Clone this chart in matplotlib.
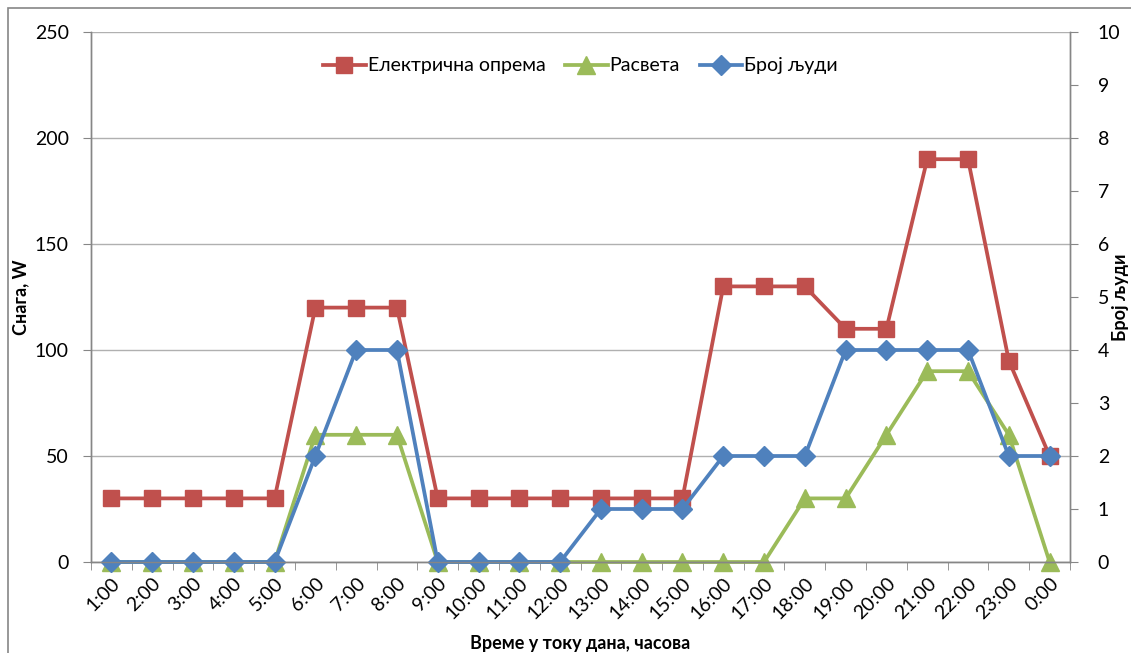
import matplotlib.pyplot as plt
from matplotlib.patches import Rectangle

hours = ["1:00", "2:00", "3:00", "4:00", "5:00", "6:00", "7:00", "8:00", "9:00", "10:00",
         "11:00", "12:00", "13:00", "14:00", "15:00", "16:00", "17:00", "18:00", "19:00",
         "20:00", "21:00", "22:00", "23:00", "0:00"]
equipment = [30, 30, 30, 30, 30, 120, 120, 120, 30, 30, 30, 30, 30, 30, 30,
             130, 130, 130, 110, 110, 190, 190, 95, 50]
lighting = [0, 0, 0, 0, 0, 60, 60, 60, 0, 0, 0, 0, 0, 0, 0,
            0, 0, 30, 30, 60, 90, 90, 60, 0]
people = [0, 0, 0, 0, 0, 2, 4, 4, 0, 0, 0, 0, 1, 1, 1,
          2, 2, 2, 4, 4, 4, 4, 2, 2]

plt.rcParams["font.family"] = ["Lato", "DejaVu Sans"]

RED = "#C0504D"
GREEN = "#9BBB59"
BLUE = "#4F81BD"
AXIS = "#868686"

fig = plt.figure(figsize=(11.31, 6.53), dpi=100, facecolor="white")
fig.patches.append(Rectangle((8 / 1131, -0.1), 1.2, 1 - 8 / 653 + 0.1, transform=fig.transFigure,
                             fill=False, edgecolor=AXIS, linewidth=1.2))

ax = fig.add_axes([91 / 1131, 1 - 562 / 653, (1070 - 91) / 1131, (562 - 32) / 653])
ax2 = ax.twinx()

x = list(range(len(hours)))
l1, = ax.plot(x, equipment, color=RED, linewidth=2.7, marker="s", markersize=11,
              label="Електрична опрема", clip_on=False)
l2, = ax.plot(x, lighting, color=GREEN, linewidth=2.7, marker="^", markersize=13,
              label="Расвета", clip_on=False)
l3, = ax2.plot(x, people, color=BLUE, linewidth=2.7, marker="D", markersize=10,
               label="Број људи", clip_on=False)

ax.set_xlim(-0.5, len(hours) - 0.5)
ax.set_ylim(0, 250)
ax.set_yticks(range(0, 251, 50))
ax2.set_ylim(0, 10)
ax2.set_yticks(range(0, 11))

ax.set_xticks(x)
ax.set_xticklabels(hours, rotation=45, ha="right", rotation_mode="anchor")
ax.set_xticks([i - 0.5 for i in range(len(hours) + 1)], minor=True)
ax.tick_params(axis="x", which="major", length=0, labelsize=14, pad=9)
ax.tick_params(axis="x", which="minor", length=6, color=AXIS, direction="out")
ax.tick_params(axis="y", length=6, color=AXIS, labelsize=14, pad=10)
ax2.tick_params(axis="y", length=6, color=AXIS, labelsize=14, pad=14)

ax.grid(axis="y", color="#B0B0B0", linewidth=1)
ax.set_axisbelow(True)

for a in (ax, ax2):
    a.spines["top"].set_visible(False)
    for s in ("left", "right", "bottom"):
        a.spines[s].set_color(AXIS)
        a.spines[s].set_linewidth(1)

ax.set_ylabel("Снага, W", fontsize=13, fontweight="bold", labelpad=4)
ax.set_xlabel("Време у току дана, часова", fontsize=13, fontweight="bold", labelpad=9)
ax2.set_ylabel("Број људи", fontsize=13, fontweight="bold", rotation=90)
ax2.yaxis.set_label_coords(1.043, 0.5)

ax2.legend(handles=[l1, l2, l3], loc="upper center", bbox_to_anchor=(0.5, 0.985), ncol=3,
           frameon=False, fontsize=14, handlelength=2.2, handletextpad=0.1, columnspacing=1.0)

plt.savefig("out.png", dpi=100)
